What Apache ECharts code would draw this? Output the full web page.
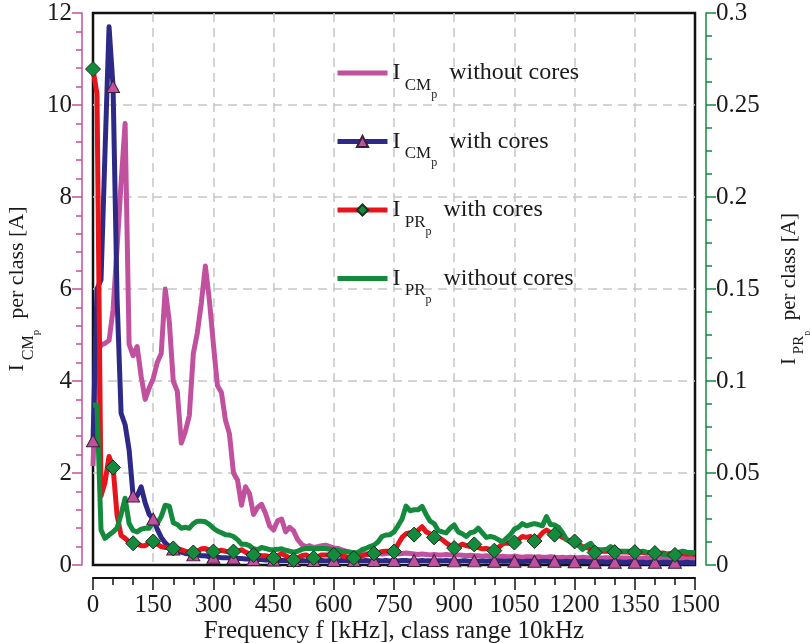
<!DOCTYPE html>
<html><head><meta charset="utf-8">
<script src="https://cdn.jsdelivr.net/npm/echarts@6/dist/echarts.min.js"></script>
<style>html,body{margin:0;padding:0;background:#fff}#c{width:810px;height:643px}</style>
</head><body><div id="c"></div>
<script>
// class range 10 kHz, classes from 0 to 1500 kHz
const classStep = 10;
const markerEvery = 5; // a marker every 50 kHz

// I_CMp without cores [A] (left axis)
const cmWithoutCores = [
  2.15, 4.6, 4.78, 4.82, 4.88, 5.55, 6.9, 8.3, 9.6, 4.8,
  4.55, 4.75, 4.1, 3.6, 3.85, 4.05, 4.4, 4.6, 6.0, 5.3,
  4.0, 3.78, 2.65, 2.9, 3.25, 4.6, 5.05, 5.7, 6.5, 5.75,
  4.8, 3.9, 3.75, 3.15, 2.85, 2.0, 1.85, 1.3, 1.7, 1.55,
  1.1, 1.25, 1.32, 1.12, 0.85, 0.76, 0.96, 1.0, 0.72, 0.82,
  0.74, 0.55, 0.45, 0.4, 0.42, 0.38, 0.4, 0.42, 0.43, 0.4,
  0.37, 0.36, 0.33, 0.3, 0.28, 0.26, 0.25, 0.26, 0.24, 0.25,
  0.26, 0.25, 0.24, 0.25, 0.26, 0.25, 0.24, 0.25, 0.26, 0.25,
  0.24, 0.23, 0.24, 0.23, 0.22, 0.23, 0.22, 0.22, 0.23, 0.22,
  0.21, 0.22, 0.21, 0.2, 0.21, 0.2, 0.2, 0.19, 0.2, 0.19,
  0.19, 0.18, 0.19, 0.18, 0.18, 0.19, 0.18, 0.17, 0.18, 0.18,
  0.17, 0.18, 0.17, 0.17, 0.18, 0.17, 0.16, 0.17, 0.16, 0.17,
  0.16, 0.16, 0.17, 0.16, 0.15, 0.16, 0.16, 0.15, 0.16, 0.15,
  0.15, 0.16, 0.15, 0.15, 0.14, 0.15, 0.15, 0.14, 0.15, 0.14,
  0.14, 0.15, 0.14, 0.14, 0.13, 0.14, 0.14, 0.13, 0.14, 0.13,
  0.13
];

// I_CMp with cores [A] (left axis)
const cmWithCores = [
  2.7, 6.0, 6.2, 9.0, 11.7, 10.4, 5.8, 3.3, 3.05, 2.5,
  1.5, 1.5, 1.7, 1.35, 1.1, 1.0, 0.78, 0.6, 0.48, 0.4,
  0.35, 0.3, 0.28, 0.25, 0.24, 0.22, 0.22, 0.2, 0.2, 0.18,
  0.17, 0.17, 0.16, 0.16, 0.15, 0.15, 0.14, 0.14, 0.13, 0.13,
  0.12, 0.12, 0.12, 0.11, 0.11, 0.11, 0.1, 0.1, 0.1, 0.1,
  0.1, 0.09, 0.1, 0.09, 0.1, 0.1, 0.09, 0.1, 0.09, 0.1,
  0.1, 0.09, 0.1, 0.1, 0.09, 0.1, 0.1, 0.09, 0.1, 0.09,
  0.1, 0.1, 0.09, 0.1, 0.09, 0.1, 0.09, 0.1, 0.1, 0.09,
  0.1, 0.09, 0.1, 0.09, 0.09, 0.1, 0.09, 0.09, 0.1, 0.09,
  0.09, 0.08, 0.09, 0.09, 0.08, 0.09, 0.08, 0.09, 0.08, 0.09,
  0.08, 0.09, 0.08, 0.08, 0.09, 0.08, 0.08, 0.07, 0.08, 0.08,
  0.08, 0.07, 0.08, 0.08, 0.07, 0.08, 0.07, 0.07, 0.08, 0.07,
  0.07, 0.07, 0.08, 0.07, 0.07, 0.06, 0.07, 0.07, 0.06, 0.07,
  0.06, 0.07, 0.06, 0.06, 0.07, 0.06, 0.06, 0.06, 0.05, 0.06,
  0.06, 0.05, 0.06, 0.06, 0.05, 0.06, 0.05, 0.05, 0.06, 0.05,
  0.05
];

// I_PRp with cores [A] (right axis)
const prWithCores = [
  0.2695, 0.256, 0.0375, 0.045, 0.059, 0.053, 0.027, 0.016, 0.0145, 0.0125,
  0.0118, 0.0113, 0.0105, 0.0105, 0.012, 0.0128, 0.0113, 0.01, 0.0095, 0.0095,
  0.009, 0.0088, 0.0083, 0.0075, 0.007, 0.0068, 0.0075, 0.0088, 0.009, 0.008,
  0.0073, 0.0075, 0.008, 0.0075, 0.007, 0.0073, 0.0075, 0.0083, 0.007, 0.006,
  0.0055, 0.0055, 0.005, 0.005, 0.0045, 0.0038, 0.005, 0.0063, 0.005, 0.0038,
  0.0028, 0.0038, 0.005, 0.0055, 0.0045, 0.0038, 0.0045, 0.0055, 0.0055, 0.0055,
  0.0055, 0.006, 0.005, 0.0045, 0.0038, 0.0038, 0.0045, 0.005, 0.0055, 0.006,
  0.0063, 0.0068, 0.0073, 0.0075, 0.0075, 0.0073, 0.0113, 0.015, 0.017, 0.0175,
  0.0165, 0.0188, 0.0208, 0.018, 0.017, 0.0150, 0.015, 0.0138, 0.012, 0.0105,
  0.0092, 0.01, 0.0113, 0.0105, 0.01, 0.0112, 0.0095, 0.0088, 0.009, 0.0085,
  0.0078, 0.0095, 0.0113, 0.012, 0.0118, 0.0122, 0.0138, 0.0155, 0.015, 0.0155,
  0.013, 0.015, 0.0175, 0.019, 0.0175, 0.0165, 0.0163, 0.015, 0.0138, 0.013,
  0.0128, 0.0113, 0.01, 0.0095, 0.0088, 0.0068, 0.008, 0.0075, 0.0075, 0.0075,
  0.007, 0.0075, 0.007, 0.007, 0.0068, 0.0070, 0.007, 0.0068, 0.0065, 0.0068,
  0.0065, 0.0063, 0.0065, 0.006, 0.0063, 0.0055, 0.0063, 0.006, 0.0058, 0.006,
  0.0055
];

// I_PRp without cores [A] (right axis)
const prWithoutCores = [
  0.087, 0.087, 0.019, 0.0145, 0.0163, 0.018, 0.02, 0.0275, 0.0363, 0.0225,
  0.0188, 0.018, 0.0195, 0.02, 0.02, 0.0238, 0.0225, 0.0263, 0.0325, 0.032,
  0.023, 0.022, 0.02, 0.0205, 0.02, 0.0225, 0.0238, 0.0238, 0.0235, 0.022,
  0.02, 0.0185, 0.0175, 0.0165, 0.0163, 0.0155, 0.0138, 0.0113, 0.0113, 0.0105,
  0.0088, 0.0083, 0.0095, 0.009, 0.0083, 0.0083, 0.0085, 0.0088, 0.008, 0.0075,
  0.007, 0.0075, 0.0085, 0.009, 0.009, 0.0088, 0.009, 0.009, 0.009, 0.0085,
  0.0083, 0.008, 0.0075, 0.0073, 0.007, 0.0065, 0.0068, 0.0083, 0.009, 0.01,
  0.0108, 0.0125, 0.0155, 0.0163, 0.0165, 0.018, 0.0213, 0.025, 0.032, 0.0295,
  0.03, 0.03, 0.0318, 0.0275, 0.0238, 0.0225, 0.0188, 0.018, 0.0175, 0.02,
  0.0218, 0.018, 0.017, 0.0155, 0.0175, 0.018, 0.02, 0.0175, 0.015, 0.0155,
  0.015, 0.0138, 0.0125, 0.0145, 0.0165, 0.0195, 0.0205, 0.0225, 0.0213, 0.022,
  0.0225, 0.022, 0.0213, 0.0263, 0.022, 0.0218, 0.0205, 0.0175, 0.0138, 0.0125,
  0.012, 0.0105, 0.0085, 0.0105, 0.0118, 0.0088, 0.0083, 0.0083, 0.0085, 0.01,
  0.0088, 0.0075, 0.0075, 0.0075, 0.0075, 0.0065, 0.007, 0.0075, 0.007, 0.0068,
  0.0063, 0.0063, 0.0058, 0.0055, 0.0055, 0.0055, 0.007, 0.0075, 0.007, 0.0068,
  0.0065
];

const seriesNames = ['cmWithout', 'cmWith', 'prWith', 'prWithout'];
const legendSub = ['CM', 'CM', 'PR', 'PR'];
const legendText = ['without cores', 'with cores', 'with cores', 'without cores'];

const serif = 'Liberation Serif';
const PINK = '#c1509e', BLUE = '#2d2a87', RED = '#e8141c', GREEN = '#138a3c';

function toData(vals, withMarkers) {
  return vals.map((v, i) => {
    const item = { value: [i * classStep, v] };
    if (!withMarkers || i % markerEvery !== 0 || i === vals.length - 1) item.symbol = 'none';
    return item;
  });
}

function richLabel(big, mid, small, p1, p2) {
  return {
    m: { fontFamily: serif, fontSize: big, color: '#1a1a1a' },
    s: { fontFamily: serif, fontSize: mid, color: '#1a1a1a', padding: [p1, 0, 0, 0] },
    ss: { fontFamily: serif, fontSize: small, color: '#1a1a1a', padding: [p2, 0, 0, 0] }
  };
}

const chart = echarts.init(document.getElementById('c'), null, { renderer: 'canvas' });

const axisLabelStyle = { fontFamily: serif, fontSize: 25, color: '#1a1a1a', formatter: v => String(v) };
const gridDash = { color: '#c6c6c6', width: 1.5, type: [9, 6] };

chart.setOption({
  animation: false,
  backgroundColor: '#fff',
  grid: {
    left: 93, right: 115, top: 13, bottom: 78,
    show: true, borderColor: '#111', borderWidth: 2.5, backgroundColor: 'transparent',
    containLabel: false, outerBoundsMode: 'none'
  },
  legend: {
    orient: 'vertical', left: 330, top: 56,
    itemWidth: 50, itemHeight: 14, itemGap: 29,
    selectedMode: false,
    lineStyle: { width: 5 },
    data: [
      { name: seriesNames[0], itemStyle: { opacity: 0 } },
      { name: seriesNames[1] },
      { name: seriesNames[2] },
      { name: seriesNames[3], itemStyle: { opacity: 0 } }
    ],
    formatter: function (name) {
      const i = seriesNames.indexOf(name);
      return '{m|I}{s| ' + legendSub[i] + '}{ss|p}{m|  ' + legendText[i] + '}';
    },
    textStyle: {
      fontFamily: serif, fontSize: 24, color: '#1a1a1a',
      rich: richLabel(24, 17, 12, 25, 43)
    }
  },
  xAxis: {
    type: 'value', min: 0, max: 1500, interval: 150,
    position: 'bottom', offset: 13,
    axisLine: { show: true, onZero: false, lineStyle: { color: '#111', width: 2 } },
    axisTick: { show: true, inside: false, length: 12, lineStyle: { color: '#111', width: 1.5 } },
    minorTick: { show: true, splitNumber: 3, length: 7, lineStyle: { color: '#111', width: 1.5 } },
    axisLabel: Object.assign({ margin: 15 }, axisLabelStyle),
    splitLine: { show: true, showMinLine: false, showMaxLine: false, lineStyle: gridDash },
    name: 'Frequency f [kHz], class range 10kHz',
    nameLocation: 'middle', nameGap: 41, nameMoveOverlap: false,
    nameTextStyle: { fontFamily: serif, fontSize: 25, color: '#1a1a1a' }
  },
  yAxis: [
    {
      type: 'value', min: 0, max: 12, interval: 2,
      position: 'left', offset: 11,
      axisLine: { show: true, onZero: false, lineStyle: { color: PINK, width: 1.5 } },
      axisTick: { show: true, inside: false, length: 10, lineStyle: { color: PINK, width: 1.5 } },
      minorTick: { show: true, splitNumber: 5, length: 6, lineStyle: { color: PINK, width: 1.5 } },
      axisLabel: Object.assign({ margin: 10 }, axisLabelStyle),
      splitLine: { show: true, showMinLine: false, showMaxLine: false, lineStyle: gridDash },
      name: '{m|I}{s| CM}{ss|p}{m|  per class [A]}',
      nameLocation: 'middle', nameGap: 40, nameRotate: 90, nameMoveOverlap: false,
      nameTextStyle: { rich: richLabel(22, 16, 11, 22, 38) }
    },
    {
      type: 'value', min: 0, max: 0.3, interval: 0.05,
      position: 'right', offset: 11,
      axisLine: { show: true, onZero: false, lineStyle: { color: GREEN, width: 1.5 } },
      axisTick: { show: true, inside: false, length: 10, lineStyle: { color: GREEN, width: 1.5 } },
      minorTick: { show: true, splitNumber: 4, length: 6, lineStyle: { color: GREEN, width: 1.5 } },
      axisLabel: Object.assign({ margin: 10 }, axisLabelStyle),
      splitLine: { show: false },
      name: '{m|I}{s| PR}{ss|p}{m|  per class [A]}',
      nameLocation: 'middle', nameGap: 60, nameRotate: 90, nameMoveOverlap: false,
      nameTextStyle: { rich: richLabel(21, 15, 10, 20, 36) }
    }
  ],
  series: [
    {
      name: seriesNames[0], type: 'line', yAxisIndex: 0,
      data: toData(cmWithoutCores, false), symbol: 'none',
      lineStyle: { color: PINK, width: 5, join: 'round' }, itemStyle: { color: PINK }
    },
    {
      name: seriesNames[1], type: 'line', yAxisIndex: 0,
      data: toData(cmWithCores, true), symbol: 'triangle', symbolSize: [13, 12],
      lineStyle: { color: BLUE, width: 5, join: 'round' },
      itemStyle: { color: PINK, borderColor: '#3a1f3a', borderWidth: 1 }
    },
    {
      name: seriesNames[2], type: 'line', yAxisIndex: 1,
      data: toData(prWithCores, true), symbol: 'diamond', symbolSize: [15, 15],
      lineStyle: { color: RED, width: 5, join: 'round' },
      itemStyle: { color: GREEN, borderColor: '#1f2a1f', borderWidth: 1 }
    },
    {
      name: seriesNames[3], type: 'line', yAxisIndex: 1,
      data: toData(prWithoutCores, false), symbol: 'none',
      lineStyle: { color: GREEN, width: 5, join: 'round' }, itemStyle: { color: GREEN }
    }
  ]
});
</script>
</body></html>
